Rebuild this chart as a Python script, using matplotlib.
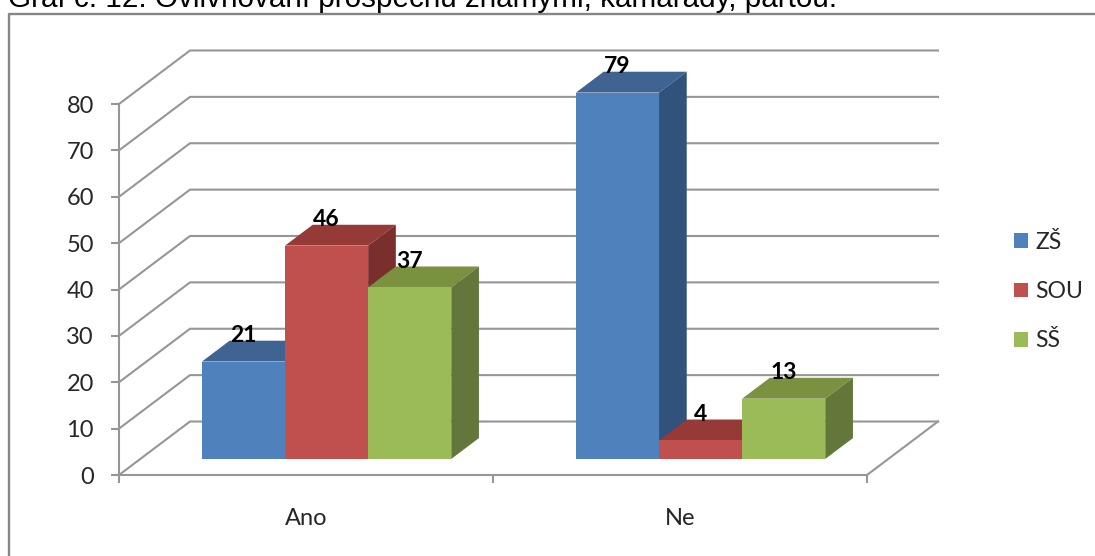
# Graf c. 12 - fake 3d bar chart drawn on a flat axes
import numpy as np
import matplotlib
matplotlib.use('Agg')
import matplotlib.pyplot as plt
from matplotlib.lines import Line2D
from matplotlib.patches import Polygon, Rectangle

title = 'Graf č. 12: Ovlivňování prospěchu známými, kamarády, partou.'
categories = ['Ano', 'Ne']
series = ['ZŠ', 'SOU', 'SŠ']
zs = [21, 79]
sou = [46, 4]
ss = [37, 13]
values = [zs, sou, ss]
y_ticks = [0, 10, 20, 30, 40, 50, 60, 70, 80]

front = ['#4F81BD', '#C0504D', '#9BBB59']
top = ['#3F6491', '#963A38', '#7A9140']
side = ['#30527C', '#7A2F2D', '#63773A']
GRID = '#969696'
TEXT = '#262626'

W, H = 1095, 556
plt.rcParams['font.family'] = ['Lato', 'DejaVu Sans']
fig = plt.figure(figsize=(W/100, H/100), dpi=100)

# outer chart border, only top and left are in the picture
fig.add_artist(Line2D([8.5/W, 8.5/W, 1], [0, 1-14/H, 1-14/H], transform=fig.transFigure,
                      color='#868686', lw=1.7))
fig.text(8/W, 1-7/H, title, family='Liberation Sans', fontsize=21.35, color='black', va='baseline')

# front plane of the box = the real axes
x0, x1, y0, y1 = 119, 867, 475, 104
ax = fig.add_axes([x0/W, 1-y0/H, (x1-x0)/W, (y0-y1)/H])
ax.set_xlim(0, 2)
ax.set_ylim(0, 80)
ax.patch.set_visible(False)
for s in ['top', 'right']:
    ax.spines[s].set_visible(False)
for s in ['left', 'bottom']:
    ax.spines[s].set_color(GRID)
    ax.spines[s].set_linewidth(1.5)
ax.set_yticks(y_ticks)
ax.set_xticks([0, 1, 2])
ax.set_xticklabels([])
ax.set_xticks([0.5, 1.5], minor=True)
ax.set_xticklabels(categories, minor=True)
ax.tick_params(axis='x', which='major', length=6, width=1.5, color=GRID, direction='out')
ax.tick_params(axis='x', which='minor', length=0, pad=23.5, labelsize=17, labelcolor=TEXT)
ax.tick_params(axis='y', length=6, width=1.5, color=GRID, pad=12, labelsize=17, labelcolor=TEXT)

# depth of the box in data units
DX = 71/(x1-x0)*2
DY = 53.5/(y0-y1)*80

# walls
for v in y_ticks:
    ax.plot([0, DX, 2+DX], [v, v+DY, v+DY], color=GRID, lw=1.5, clip_on=False, zorder=1)
ax.plot([2, 2+DX], [0, DY], color=GRID, lw=1.5, clip_on=False, zorder=1)

# bars sit part way into the floor
bar_w = 1/4.5
f0, f1 = 0.29, 0.29+0.39
for i_cat in range(len(categories)):
    for i_s in range(len(series)):
        v = values[i_s][i_cat]
        left = i_cat + 0.5 - 1.5*bar_w + i_s*bar_w + f0*DX
        right = left + bar_w
        b = 0.3*DY
        t = b + v
        ddx, ddy = (f1-f0)*DX, (f1-f0)*DY
        ax.add_patch(Polygon([(left, t), (right, t), (right+ddx, t+ddy), (left+ddx, t+ddy)],
                             fc=top[i_s], ec='none', clip_on=False, zorder=3))
        ax.add_patch(Polygon([(right, b), (right+ddx, b+ddy), (right+ddx, t+ddy), (right, t)],
                             fc=side[i_s], ec='none', clip_on=False, zorder=3))
        ax.add_patch(Rectangle((left, b), bar_w, v, fc=front[i_s], ec='none', clip_on=False, zorder=3))
        ax.annotate(str(v), (left+bar_w/2, t), xytext=(-0.2, 18.6), textcoords='offset points',
                    ha='center', va='center', fontsize=16.5, fontweight='bold', color='black',
                    annotation_clip=False, zorder=5)

handles = [Rectangle((0, 0), 1, 1, fc=c, ec='none') for c in front]
fig.legend(handles, series, loc='upper left', bbox_to_anchor=(1014/W, 1-232/H), frameon=False,
           fontsize=16.6, labelcolor=TEXT, borderpad=0, borderaxespad=0, handlelength=0.61,
           handleheight=0.61, handletextpad=0.3, labelspacing=1.22)

fig.savefig('out.png', dpi=100)
